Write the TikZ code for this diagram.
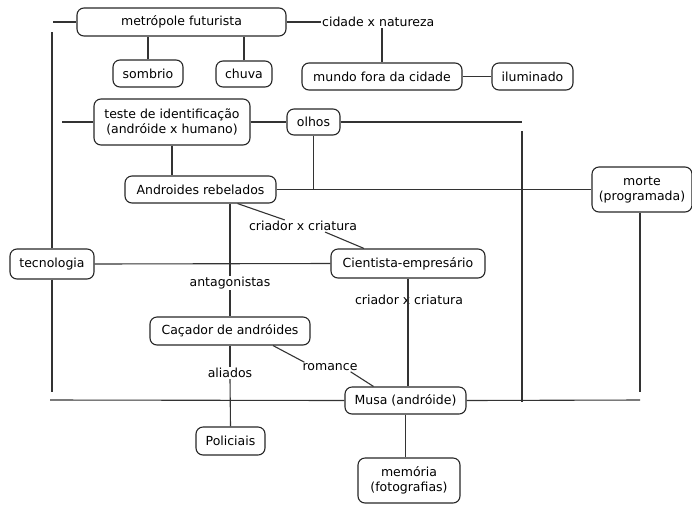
\documentclass[tikz,border=0pt]{standalone}
\usepackage{fontspec}
\setmainfont{DejaVu Sans}
\usetikzlibrary{calc}
\begin{document}
\begin{tikzpicture}[x=1pt, y=-1pt,
    box/.style={draw=black!85, line width=1.1pt, rounded corners=7pt, align=center, inner sep=2pt, font=\fontsize{12.5}{15}\selectfont},
    lbl/.style={inner sep=1pt, font=\fontsize{12.5}{15}\selectfont},
    link/.style={draw=black!80, line width=1.1pt}]
    \useasboundingbox (0,0) rectangle (692,504);

    \node[box, minimum width=209pt, minimum height=28pt] (metro) at (181.5,22) {metrópole futurista};
    \node[box, minimum width=70pt, minimum height=27pt] (sombrio) at (148,73.5) {sombrio};
    \node[box, minimum width=56pt, minimum height=26pt] (chuva) at (244,74) {chuva};
    \node[box, minimum width=160pt, minimum height=27pt] (mundo) at (382,76.5) {mundo fora da cidade};
    \node[box, minimum width=81pt, minimum height=27pt] (ilum) at (532.5,76.5) {iluminado};
    \node[box, minimum width=156pt, minimum height=46pt] (teste) at (172,122) {teste de identificação\\(andróide x humano)};
    \node[box, minimum width=53pt, minimum height=26pt] (olhos) at (313.5,122) {olhos};
    \node[box, minimum width=151pt, minimum height=27pt] (andro) at (200.5,189.5) {Androides rebelados};
    \node[box, minimum width=100pt, minimum height=45pt] (morte) at (642,189.5) {morte\\(programada)};
    \node[box, minimum width=84pt, minimum height=30pt] (tecno) at (52,264) {tecnologia};
    \node[box, minimum width=154pt, minimum height=29pt] (cient) at (408,263.5) {Cientista-empresário};
    \node[box, minimum width=160pt, minimum height=28pt] (cacador) at (230,331) {Caçador de andróides};
    \node[box, minimum width=121pt, minimum height=27pt] (musa) at (405.5,400.5) {Musa (andróide)};
    \node[box, minimum width=69pt, minimum height=28pt] (policiais) at (230.5,441) {Policiais};
    \node[box, minimum width=102pt, minimum height=45pt] (memoria) at (409,480.5) {memória\\(fotografias)};

    \node[lbl, anchor=west] (cidnat) at (321,22) {cidade x natureza};
    \node[lbl] (crc1) at (303,226) {criador x criatura};
    \node[lbl] (crc2) at (409,300) {criador x criatura};
    \node[lbl] (antag) at (230,283) {antagonistas};
    \node[lbl] (aliados) at (230,373) {aliados};
    \node[lbl] (romance) at (330,367) {romance};

    % free ends of the long lines
    \coordinate (tl) at (53,22);
    \coordinate (lt) at (52,32);
    \coordinate (lb) at (52,392);
    \coordinate (tw) at (62,122);
    \coordinate (oe) at (522,122);
    \coordinate (mt) at (522,131);
    \coordinate (mb) at (522,402);
    \coordinate (rb) at (640,392);
    \coordinate (hl) at (50,400);
    \coordinate (hr) at (640,400);

    \draw[link] (tl) -- (metro.west);
    \draw[link] (lt) -- (tecno.north);
    \draw[link] (tecno.south) -- (lb);
    \draw[link] (metro.east) -- (cidnat.west);
    \draw[link] (cidnat.south -| mundo.north) -- (mundo.north);
    \draw[link] (sombrio.north) -- (sombrio.north |- metro.south);
    \draw[link] (chuva.north) -- (chuva.north |- metro.south);
    \draw[link] (mundo.east) -- (ilum.west);
    \draw[link] (tw) -- (teste.west);
    \draw[link] (teste.east) -- (olhos.west);
    \draw[link] (olhos.east) -- (oe);
    \draw[link] (mt) -- (mb);
    \draw[link] (teste.south) -- (teste.south |- andro.north);
    \draw[link] (olhos.south) -- (olhos.south |- andro.east);
    \draw[link] (andro.east) -- (morte.west);
    \draw[link] (morte.south -| rb) -- (rb);
    \draw[link] (tecno.east) -- (cient.west);

    \draw[link] (andro.south -| cacador.north) -- (antag.north);
    \draw[link] (antag.south) -- (cacador.north);
    \draw[link] ($(andro.south)+(37,0)$) -- ($(crc1.north west)+(37,0)$);
    \draw[link] ($(crc1.south)+(22,0)$) -- ($(cient.north)+(-44,0)$);
    \draw[link] (cient.south) -- (cient.south |- musa.north);
    \draw[link] (cacador.south) -- (aliados.north);
    \draw[link] (aliados.south) -- (policiais.north);
    \draw[link] ($(cacador.south)+(43,0)$) -- ($(romance.north west)+(3,0)$);
    \draw[link] ($(romance.south east)+(-8,0)$) -- ($(musa.north)+(-32,0)$);

    \draw[link] (hl) -- (musa.west);
    \draw[link] (musa.east) -- (hr);
    \draw[link] (musa.south) -- (musa.south |- memoria.north);
\end{tikzpicture}
\end{document}
